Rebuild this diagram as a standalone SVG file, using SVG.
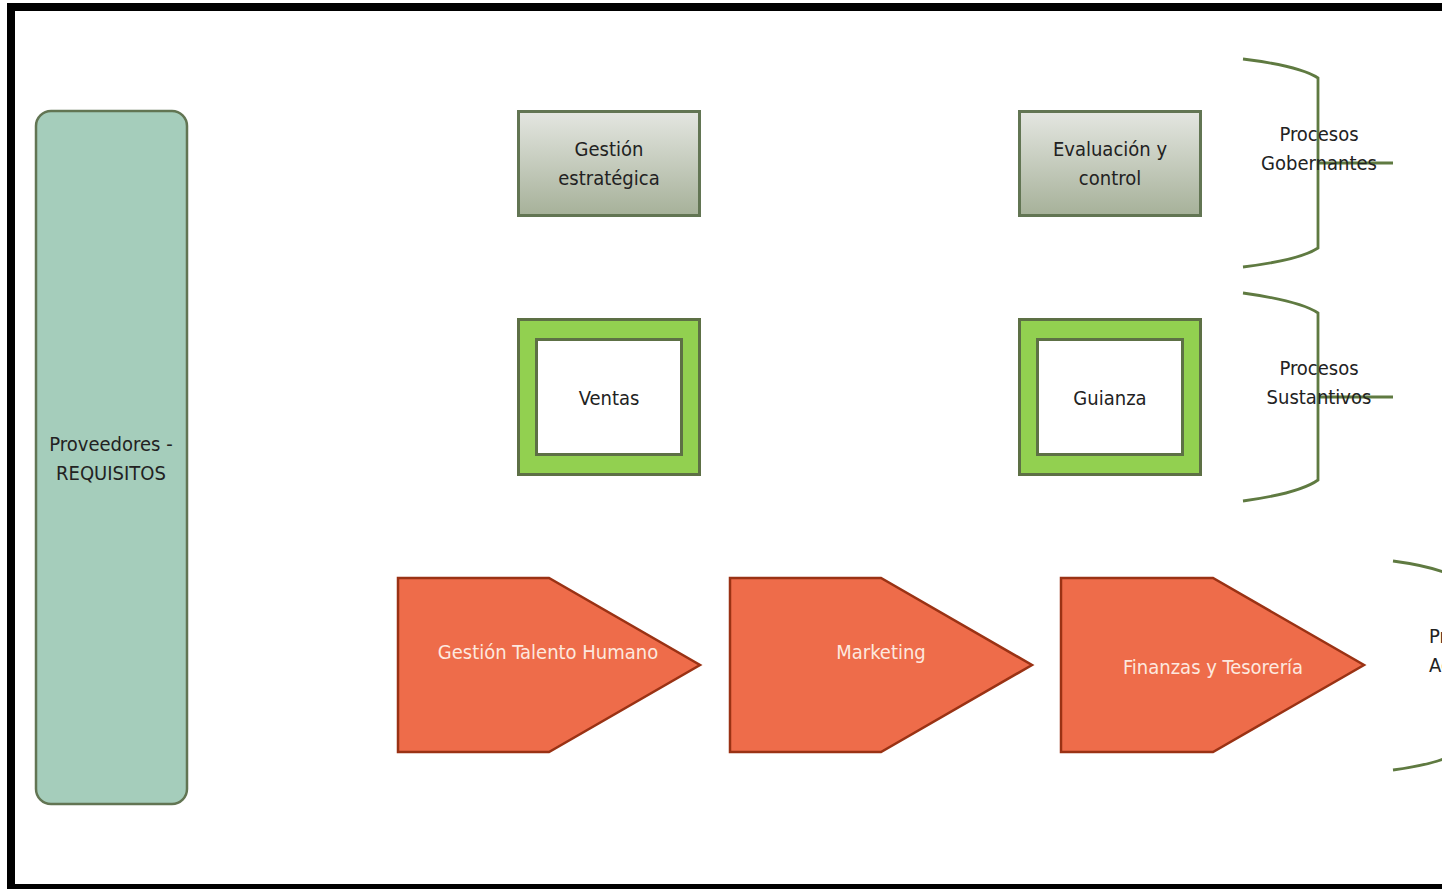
<svg xmlns="http://www.w3.org/2000/svg" width="1442" height="889" viewBox="0 0 1442 889">
<defs>
<linearGradient id="gg" x1="0" y1="0" x2="0" y2="1">
<stop offset="0" stop-color="#e4e6e1"/>
<stop offset="1" stop-color="#a6b199"/>
</linearGradient>
<style>
text{font-family:"Liberation Sans Narrow","DejaVu Sans Condensed","Liberation Sans",sans-serif;font-size:20px;text-anchor:middle;fill:#222}
.box{fill:url(#gg);stroke:#627553;stroke-width:3}
.outer{fill:#92d050;stroke:#5d7045;stroke-width:3}
.inner{fill:#fff;stroke:#5d7045;stroke-width:3}
.chev{fill:#ee6c4a;stroke:#9a3214;stroke-width:2.5}
.chev-t{fill:#fde8df}
.brace{fill:none;stroke:#5f7a41;stroke-width:2.8}
</style>
</defs>
<rect width="1442" height="889" fill="#fff"/>
<g id="frame">
<rect x="7" y="3" width="1435" height="8" fill="#000"/>
<rect x="7" y="3" width="8" height="886" fill="#000"/>
<rect x="7" y="884" width="1435" height="5" fill="#000"/>
</g>
<g id="proveedores">
<rect x="36" y="111" width="151" height="693" rx="15" fill="#a5cdbb" stroke="#627553" stroke-width="2.5"/>
<text x="111" y="451">Proveedores -</text>
<text x="111" y="480">REQUISITOS</text>
</g>
<g id="gestion-estrategica">
<rect class="box" x="518.5" y="111.5" width="181" height="104"/>
<text x="609" y="156">Gestión</text>
<text x="609" y="185">estratégica</text>
</g>
<g id="evaluacion">
<rect class="box" x="1019.5" y="111.5" width="181" height="104"/>
<text x="1110" y="156">Evaluación y</text>
<text x="1110" y="185">control</text>
</g>
<g id="ventas">
<rect class="outer" x="518.5" y="319.5" width="181" height="155"/>
<rect class="inner" x="536.5" y="339.5" width="145" height="115"/>
<text x="609" y="405">Ventas</text>
</g>
<g id="guianza">
<rect class="outer" x="1019.5" y="319.5" width="181" height="155"/>
<rect class="inner" x="1037.5" y="339.5" width="145" height="115"/>
<text x="1110" y="405">Guianza</text>
</g>
<g id="talento">
<polygon class="chev" points="398,578 549,578 700,665 549,752 398,752"/>
<text class="chev-t" x="548" y="659">Gestión Talento Humano</text>
</g>
<g id="marketing">
<polygon class="chev" points="730,578 881,578 1032,665 881,752 730,752"/>
<text class="chev-t" x="881" y="659">Marketing</text>
</g>
<g id="finanzas">
<polygon class="chev" points="1061,578 1213,578 1364,665 1213,752 1061,752"/>
<text class="chev-t" x="1213" y="674">Finanzas y Tesorería</text>
</g>
<g id="connectors">
<path class="brace" d="M1243,59 Q1300,66 1318,78 L1318,248 Q1300,260 1243,267"/>
<line class="brace" x1="1318" y1="163" x2="1393" y2="163"/>
<path class="brace" d="M1243,293 Q1300,301 1318,313 L1318,480 Q1300,493 1243,501"/>
<line class="brace" x1="1318" y1="397" x2="1393" y2="397"/>
<path class="brace" d="M1393,561 Q1430,566 1448,574"/>
<path class="brace" d="M1393,770 Q1430,765 1448,757"/>
</g>
<g id="procesos-gobernantes">
<text x="1319" y="141">Procesos</text>
<text x="1319" y="170">Gobernantes</text>
</g>
<g id="procesos-sustantivos">
<text x="1319" y="375">Procesos</text>
<text x="1319" y="404">Sustantivos</text>
</g>
<g id="procesos-adjetivos">
<text x="1429" y="643" style="text-anchor:start">Procesos</text>
<text x="1429" y="672" style="text-anchor:start">Accesorios</text>
</g>
</svg>
